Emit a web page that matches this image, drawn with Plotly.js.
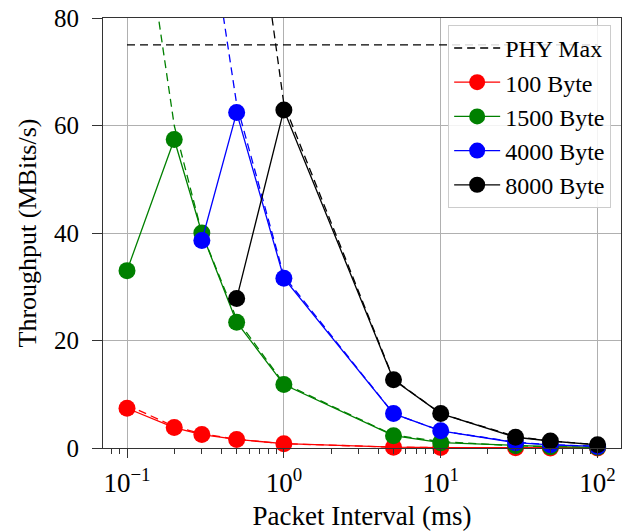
<!DOCTYPE html>
<html>
<head>
<meta charset="utf-8">
<script src="https://cdn.plot.ly/plotly-3.0.1.min.js"></script>
<style>html,body{margin:0;padding:0;background:#fff;}#chart{width:626px;height:531px;}</style>
</head>
<body>
<div id="chart"></div>
<script>
// Packet interval (ms)
const intervals = [0.1, 0.2, 0.3, 0.5, 1, 5, 10, 30, 50, 100];

// Measured throughput (MBits/s)
const thr100  = [7.4, 3.8, 2.5, 1.6, 0.8, 0.16, 0.08, 0.03, 0.016, 0.008];
const thr1500 = [33.0, 57.4, 40.0, 23.4, 11.8, 2.3, 1.0, 0.4, 0.24, 0.12];
const x4000   = [0.3, 0.5, 1, 5, 10, 30, 50, 100];
const thr4000 = [38.6, 62.4, 31.6, 6.4, 3.2, 1.0, 0.6, 0.3];
const x8000   = [0.5, 1, 5, 10, 30, 50, 100];
const thr8000 = [27.8, 62.9, 12.7, 6.4, 2.0, 1.3, 0.6];

// Expected (dashed) throughput curves (MBits/s)
const exp100  = [8, 4, 2.67, 1.6, 0.8, 0.16, 0.08, 0.027, 0.016, 0.008];
const exp1500 = [120, 60, 40, 24, 12, 2.4, 1.2, 0.4, 0.24, 0.12];
const exp4000 = [106.7, 64, 32, 6.4, 3.2, 1.07, 0.64, 0.32];
const exp8000 = [128, 64, 12.8, 6.4, 2.13, 1.28, 0.64];

// PHY maximum
const phyX = [0.1, 100];
const phyY = [75, 75];

const seriesNames = ['100 Byte', '1500 Byte', '4000 Byte', '8000 Byte'];
const colors = ['#ff0000', '#008000', '#0000ff', '#000000'];

const FONT = "'Liberation Serif', 'Times New Roman', serif";
const DASH = '8px,5px';

const traces = [];
traces.push({x: phyX, y: phyY, mode: 'lines', name: 'PHY Max',
  line: {color: '#000', width: 1.3, dash: DASH}, hoverinfo: 'skip'});

const meas = [[intervals, thr100], [intervals, thr1500], [x4000, thr4000], [x8000, thr8000]];
const exps = [[intervals, exp100], [intervals, exp1500], [x4000, exp4000], [x8000, exp8000]];

for (let i = 0; i < 4; i++) {
  traces.push({x: exps[i][0], y: exps[i][1], mode: 'lines', showlegend: false,
    line: {color: colors[i], width: 1.3, dash: DASH}, hoverinfo: 'skip'});
}
for (let i = 0; i < 4; i++) {
  traces.push({x: meas[i][0], y: meas[i][1], mode: 'lines+markers', name: seriesNames[i],
    cliponaxis: false,
    line: {color: colors[i], width: 1.3},
    marker: {color: colors[i], size: 17, symbol: 'circle'}, hoverinfo: 'skip'});
}

// minor tick positions for log axis
const minorVals = [];
for (let d = -2; d <= 2; d++) {
  for (let m = 2; m <= 9; m++) minorVals.push(m * Math.pow(10, d));
}

const layout = {
  width: 626, height: 531,
  margin: {l: 103, r: 5, t: 18, b: 83, pad: 0},
  paper_bgcolor: '#fff', plot_bgcolor: '#fff',
  font: {family: FONT, size: 26, color: '#000'},
  showlegend: true,
  legend: {x: 0.981, xanchor: 'right', y: 0.984, yanchor: 'top',
    bgcolor: 'rgba(255,255,255,0.85)', bordercolor: '#cccccc', borderwidth: 1,
    font: {family: FONT, size: 24}, tracegroupgap: 0, itemwidth: 46},
  xaxis: {
    type: 'log', range: [Math.log10(0.0703), Math.log10(141)],
    tickmode: 'array', tickvals: [0.1, 1, 10, 100],
    ticktext: ['10<sup>−1</sup>', '10<sup>0</sup>', '10<sup>1</sup>', '10<sup>2</sup>'],
    ticks: 'outside', ticklen: 9, tickwidth: 1, tickcolor: '#333',
    ticklabelstandoff: 2,
    showgrid: true, gridcolor: '#b0b0b0', gridwidth: 1,
    showline: true, linecolor: '#333', linewidth: 1, mirror: true,
    zeroline: false,
    minor: {tickmode: 'array', tickvals: minorVals, ticks: 'outside', ticklen: 5,
      tickwidth: 1, tickcolor: '#333', showgrid: false},
    title: {text: 'Packet Interval (ms)', font: {family: FONT, size: 27}, standoff: 13},
    tickfont: {family: FONT, size: 27}
  },
  yaxis: {
    range: [0, 80], tickmode: 'array', tickvals: [0, 20, 40, 60, 80],
    ticks: 'outside', ticklen: 10, tickwidth: 1, tickcolor: '#333',
    ticklabelstandoff: 8,
    showgrid: true, gridcolor: '#b0b0b0', gridwidth: 1,
    showline: true, linecolor: '#333', linewidth: 1, mirror: true,
    zeroline: false,
    title: {text: 'Throughput (MBits/s)', font: {family: FONT, size: 26}, standoff: 9},
    tickfont: {family: FONT, size: 25}
  }
};

Plotly.newPlot('chart', traces, layout, {staticPlot: true, displayModeBar: false});
</script>
</body>
</html>
